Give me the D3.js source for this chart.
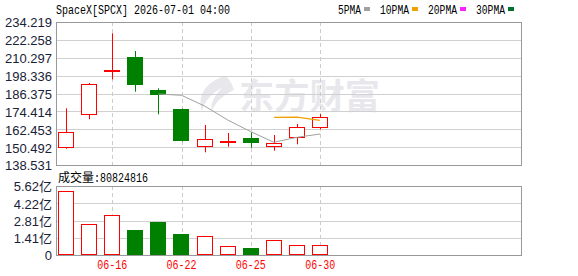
<!DOCTYPE html>
<html><head><meta charset="utf-8">
<script src="https://cdn.jsdelivr.net/npm/d3@7"></script>
<style>body{margin:0;background:#fff}svg{display:block}</style>
</head><body>
<svg id="c" width="578" height="276"></svg>
<script>
const dates = ["06-12","06-15","06-16","06-17","06-18","06-22","06-23","06-24","06-25","06-26","06-29","06-30"];
const open  = [150.38,172.46,201.30,210.80,188.72,176.00,151.04,154.20,156.40,151.04,157.47,163.76];
const close = [160.41,192.73,201.90,192.26,185.57,154.79,155.73,154.50,153.05,153.05,163.76,170.45];
const high  = [176.47,193.40,226.66,214.81,189.86,176.30,165.30,159.94,160.41,158.61,165.97,172.66];
const low   = [149.44,169.11,195.88,187.58,172.46,154.30,147.03,150.78,150.11,148.10,152.38,162.42];
const volume = [5.19,2.52,3.26,2.04,2.71,1.73,1.55,0.73,0.59,1.20,0.79,0.808]; // 亿
const ma5  = [null,null,null,null,186.04,185.17,178.0,168.64,160.81,153.72,157.07,159.28];
const ma10 = [null,null,null,null,null,null,null,null,null,170.45,170.6,168.44];
const priceTicks = [138.531,150.492,162.453,174.414,186.375,198.336,210.297,222.258,234.219];
const volTicks = [0,1.41,2.81,4.22,5.62];
const volTickLabels = ["0","1.41亿","2.81亿","4.22亿","5.62亿"];
const xLabelDates = ["06-16","06-22","06-25","06-30"];
const legendNames = ["5PMA","10PMA","20PMA","30PMA"];
const legendColors = ["#a0a0a0","#f0a000","#ff20ff","#00702a"];
const title = "SpaceX[SPCX] 2026-07-01 04:00";
const volTitle = "成交量";
const lastVol = "80824816";

const svg = d3.select("#c");
const L = 56, R = 522, T = 22, B = 165, VT = 186, VB = 255;
const nSlots = 20;
const slots = d3.range(nSlots).map(i => i < dates.length ? dates[i] : "_" + i);
const x = d3.scaleBand().domain(slots).range([54.5, 54.5 + 23.1 * nSlots]).paddingInner(0.3).paddingOuter(0.15);
const cx = d => x(d) + x.bandwidth() / 2;
const y = d3.scaleLinear().domain([138.531, 234.219]).range([B, T]);
const yv = d3.scaleLinear().domain([0, 5.62]).range([VB, VT]);
const UP = "#ff0000", DN = "#008000";
const mono = "'Liberation Mono','DejaVu Sans Mono',monospace";
const sans = "'Liberation Sans',Arial,sans-serif";

// watermark
const wm = svg.append("g").attr("fill", "#e8e8ec");
wm.append("path").attr("d", "M225,76 C205,82 197,96 202,111 C205,100 213,92 222,88 C214,96 210,104 212,111 C216,100 226,94 234,90 C232,84 230,79 225,76 Z");
wm.append("text").attr("x", 239).attr("y", 109).attr("font-family", "'Noto Sans CJK SC',sans-serif")
  .attr("font-weight", "bold").attr("font-size", 35).attr("textLength", 141).attr("lengthAdjust", "spacingAndGlyphs").text("东方财富");

// gridlines
svg.append("g").selectAll("line").data(priceTicks).join("line")
  .attr("x1", L).attr("x2", R).attr("y1", d => Math.round(y(d)) + 0.5).attr("y2", d => Math.round(y(d)) + 0.5)
  .attr("stroke", "#d0d0d0");
svg.append("g").selectAll("line").data(volTicks).join("line")
  .attr("x1", L).attr("x2", R).attr("y1", d => Math.round(yv(d)) + 0.5).attr("y2", d => Math.round(yv(d)) + 0.5)
  .attr("stroke", "#d0d0d0");
[[T, B], [VT, VB]].forEach(([a, b]) => {
  svg.append("g").selectAll("line").data(xLabelDates).join("line")
    .attr("x1", d => Math.round(cx(d)) + 0.5).attr("x2", d => Math.round(cx(d)) + 0.5)
    .attr("y1", a).attr("y2", b).attr("stroke", "#cccccc").attr("stroke-dasharray", "4,3");
});

// frames
svg.append("rect").attr("x", L + 0.5).attr("y", T + 0.5).attr("width", R - L - 1).attr("height", B - T).attr("fill", "none").attr("stroke", "#999");
svg.append("rect").attr("x", L + 0.5).attr("y", VT + 0.5).attr("width", R - L - 1).attr("height", VB - VT).attr("fill", "none").attr("stroke", "#999");

// candles
const data = dates.map((d, i) => ({d, o: open[i], c: close[i], h: high[i], l: low[i], v: volume[i]}));
const cg = svg.append("g");
data.forEach(k => {
  const up = k.c >= k.o, col = up ? UP : DN;
  const xc = Math.round(cx(k.d)) + 0.5;
  const top = Math.round(y(Math.max(k.o, k.c))), bot = Math.round(y(Math.min(k.o, k.c)));
  const xl = Math.round(x(k.d));
  const w = Math.round(x.bandwidth());
  if (up) {
    cg.append("line").attr("x1", xc).attr("x2", xc).attr("y1", y(k.h)).attr("y2", top).attr("stroke", col);
    cg.append("line").attr("x1", xc).attr("x2", xc).attr("y1", Math.max(bot, top + 1)).attr("y2", y(k.l)).attr("stroke", col);
    if (bot - top < 2) {
      cg.append("rect").attr("x", xl).attr("y", top).attr("width", w).attr("height", 2).attr("fill", col);
    } else {
      cg.append("rect").attr("x", xl + 0.5).attr("y", top + 0.5).attr("width", w - 1).attr("height", bot - top).attr("fill", "#fff").attr("stroke", col);
    }
  } else {
    cg.append("line").attr("x1", xc).attr("x2", xc).attr("y1", y(k.h)).attr("y2", y(k.l)).attr("stroke", col);
    cg.append("rect").attr("x", xl).attr("y", top).attr("width", w).attr("height", Math.max(bot - top, 1)).attr("fill", col);
  }
});

// MA lines
const maLine = d3.line().defined(d => d.v != null).x(d => cx(d.d)).y(d => y(d.v));
svg.append("path").datum(dates.map((d, i) => ({d, v: ma5[i]}))).attr("d", maLine).attr("fill", "none").attr("stroke", legendColors[0]).attr("stroke-width", 1);
svg.append("path").datum(dates.map((d, i) => ({d, v: ma10[i]}))).attr("d", maLine).attr("fill", "none").attr("stroke", legendColors[1]).attr("stroke-width", 1.2);

// volume bars
const vg = svg.append("g");
data.forEach((k, i) => {
  const up = i === 0 ? true : k.c >= k.o;
  const col = up ? UP : DN;
  const xl = Math.round(x(k.d)), w = Math.round(x.bandwidth());
  const top = Math.round(yv(k.v));
  if (up) vg.append("rect").attr("x", xl + 0.5).attr("y", top + 0.5).attr("width", w - 1).attr("height", VB - top - 1).attr("fill", "#fff").attr("stroke", col);
  else vg.append("rect").attr("x", xl).attr("y", top).attr("width", w).attr("height", VB - top).attr("fill", col);
});

// axis labels
const yAxis = d3.axisLeft(y).tickValues(priceTicks).tickFormat(d3.format(".3f")).tickSize(0).tickPadding(4);
const ga = svg.append("g").attr("transform", `translate(${L},0)`).call(yAxis);
ga.select(".domain").remove();
ga.selectAll("text").attr("font-family", sans).attr("font-size", 13).attr("fill", "#1a2238").attr("dy", "0.38em");
const vAxis = d3.axisLeft(yv).tickValues(volTicks).tickFormat((d, i) => volTickLabels[i]).tickSize(0).tickPadding(4);
const gv = svg.append("g").attr("transform", `translate(${L},0)`).call(vAxis);
gv.select(".domain").remove();
gv.selectAll("text").attr("font-family", "'Liberation Sans','Noto Sans CJK SC',sans-serif").attr("font-size", 13).attr("fill", "#1a2238").attr("dy", "0.38em");

const xAxis = d3.axisBottom(x).tickValues(xLabelDates).tickSize(0).tickPadding(0);
const gx = svg.append("g").attr("transform", `translate(0,${VB})`).call(xAxis);
gx.select(".domain").remove();
gx.selectAll("text").attr("font-family", mono).attr("font-size", 12).attr("fill", UP).attr("y", 14).attr("dy", 0)
  .attr("textLength", 30).attr("lengthAdjust", "spacingAndGlyphs");

// title
svg.append("text").attr("x", 56).attr("y", 14).attr("font-family", mono).attr("font-size", 12).attr("fill", "#000")
  .attr("textLength", title.length * 6).attr("lengthAdjust", "spacingAndGlyphs").text(title);

// legend
let lx = 338;
legendNames.forEach((n, i) => {
  svg.append("text").attr("x", lx).attr("y", 14).attr("font-family", mono).attr("font-size", 12).attr("fill", "#000")
    .attr("textLength", n.length * 6 - 1).attr("lengthAdjust", "spacingAndGlyphs").text(n);
  const sx = lx + n.length * 6 + 2;
  svg.append("rect").attr("x", sx).attr("y", 7).attr("width", 6).attr("height", 4).attr("fill", legendColors[i]);
  lx = sx + 16;
});

// volume title
svg.append("text").attr("x", 58).attr("y", 182).attr("font-family", "'Noto Sans CJK SC',sans-serif").attr("font-size", 12).attr("fill", "#000").text(volTitle);
svg.append("text").attr("x", 94).attr("y", 182).attr("font-family", mono).attr("font-size", 12).attr("fill", "#000")
  .attr("textLength", 54).attr("lengthAdjust", "spacingAndGlyphs").text(":" + lastVol);
</script>
</body></html>
